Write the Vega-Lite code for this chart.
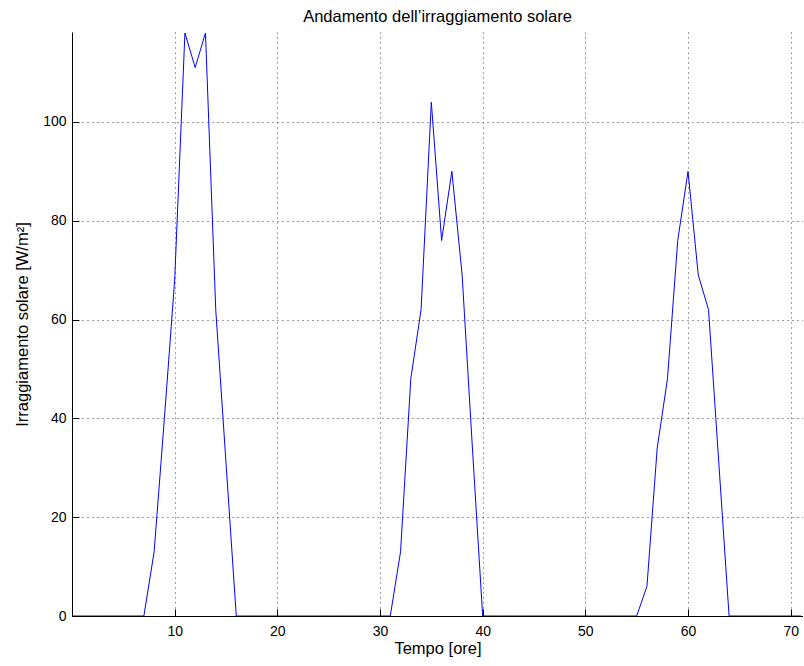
{
  "$schema": "https://vega.github.io/schema/vega-lite/v6.json",
  "autosize": {"type": "none"},
  "padding": {"left": 72, "top": 32, "right": 0, "bottom": 50},
  "width": 731,
  "height": 584,
  "background": "white",
  "title": {"text": "Andamento dell’irraggiamento solare", "font": "Liberation Sans", "fontSize": 16.5, "fontWeight": "normal", "color": "black", "offset": 7, "anchor": "middle"},
  "data": {"values": [
    {"t": 0, "v": 0}, {"t": 1, "v": 0}, {"t": 2, "v": 0}, {"t": 3, "v": 0}, {"t": 4, "v": 0}, {"t": 5, "v": 0}, {"t": 6, "v": 0}, {"t": 7, "v": 0},
    {"t": 8, "v": 13}, {"t": 9, "v": 40}, {"t": 10, "v": 68}, {"t": 11, "v": 118}, {"t": 12, "v": 111}, {"t": 13, "v": 118}, {"t": 14, "v": 62}, {"t": 15, "v": 31},
    {"t": 16, "v": 0}, {"t": 17, "v": 0}, {"t": 18, "v": 0}, {"t": 19, "v": 0}, {"t": 20, "v": 0}, {"t": 21, "v": 0}, {"t": 22, "v": 0}, {"t": 23, "v": 0},
    {"t": 24, "v": 0}, {"t": 25, "v": 0}, {"t": 26, "v": 0}, {"t": 27, "v": 0}, {"t": 28, "v": 0}, {"t": 29, "v": 0}, {"t": 30, "v": 0}, {"t": 31, "v": 0},
    {"t": 32, "v": 13}, {"t": 33, "v": 48}, {"t": 34, "v": 62}, {"t": 35, "v": 104}, {"t": 36, "v": 76}, {"t": 37, "v": 90}, {"t": 38, "v": 69}, {"t": 39, "v": 34},
    {"t": 40, "v": 0}, {"t": 41, "v": 0}, {"t": 42, "v": 0}, {"t": 43, "v": 0}, {"t": 44, "v": 0}, {"t": 45, "v": 0}, {"t": 46, "v": 0}, {"t": 47, "v": 0},
    {"t": 48, "v": 0}, {"t": 49, "v": 0}, {"t": 50, "v": 0}, {"t": 51, "v": 0}, {"t": 52, "v": 0}, {"t": 53, "v": 0}, {"t": 54, "v": 0}, {"t": 55, "v": 0},
    {"t": 56, "v": 6}, {"t": 57, "v": 34}, {"t": 58, "v": 48}, {"t": 59, "v": 76}, {"t": 60, "v": 90}, {"t": 61, "v": 69}, {"t": 62, "v": 62}, {"t": 63, "v": 31},
    {"t": 64, "v": 0}, {"t": 65, "v": 0}, {"t": 66, "v": 0}, {"t": 67, "v": 0}, {"t": 68, "v": 0}, {"t": 69, "v": 0}, {"t": 70, "v": 0}, {"t": 71, "v": 0}
  ]},
  "mark": {"type": "line", "color": "#0000ff", "strokeWidth": 1, "clip": true},
  "encoding": {
    "x": {
      "field": "t", "type": "quantitative",
      "scale": {"domain": [0, 71.2], "nice": false, "zero": false},
      "axis": {
        "title": "Tempo [ore]", "values": [10, 20, 30, 40, 50, 60, 70],
        "titleFont": "Liberation Sans", "titleFontSize": 16.5, "titleFontWeight": "normal", "titleColor": "black", "titlePadding": 2,
        "labelFont": "Liberation Sans", "labelFontSize": 14, "labelColor": "black", "labelPadding": 15,
        "tickSize": -7, "tickColor": "black", "domainColor": "black",
        "grid": true, "gridDash": [1, 4], "gridColor": "#444444", "gridWidth": 1
      }
    },
    "y": {
      "field": "v", "type": "quantitative",
      "scale": {"domain": [0, 118.2], "nice": false},
      "axis": {
        "title": "Irraggiamento solare [W/m²]", "values": [0, 20, 40, 60, 80, 100],
        "titleFont": "Liberation Sans", "titleFontSize": 16.5, "titleFontWeight": "normal", "titleColor": "black", "titlePadding": 12,
        "labelFont": "Liberation Sans", "labelFontSize": 14, "labelColor": "black", "labelPadding": 13,
        "tickSize": -7, "tickColor": "black", "domainColor": "black",
        "grid": true, "gridDash": [1, 4], "gridColor": "#444444", "gridWidth": 1
      }
    }
  },
  "config": {"view": {"stroke": null}}
}
